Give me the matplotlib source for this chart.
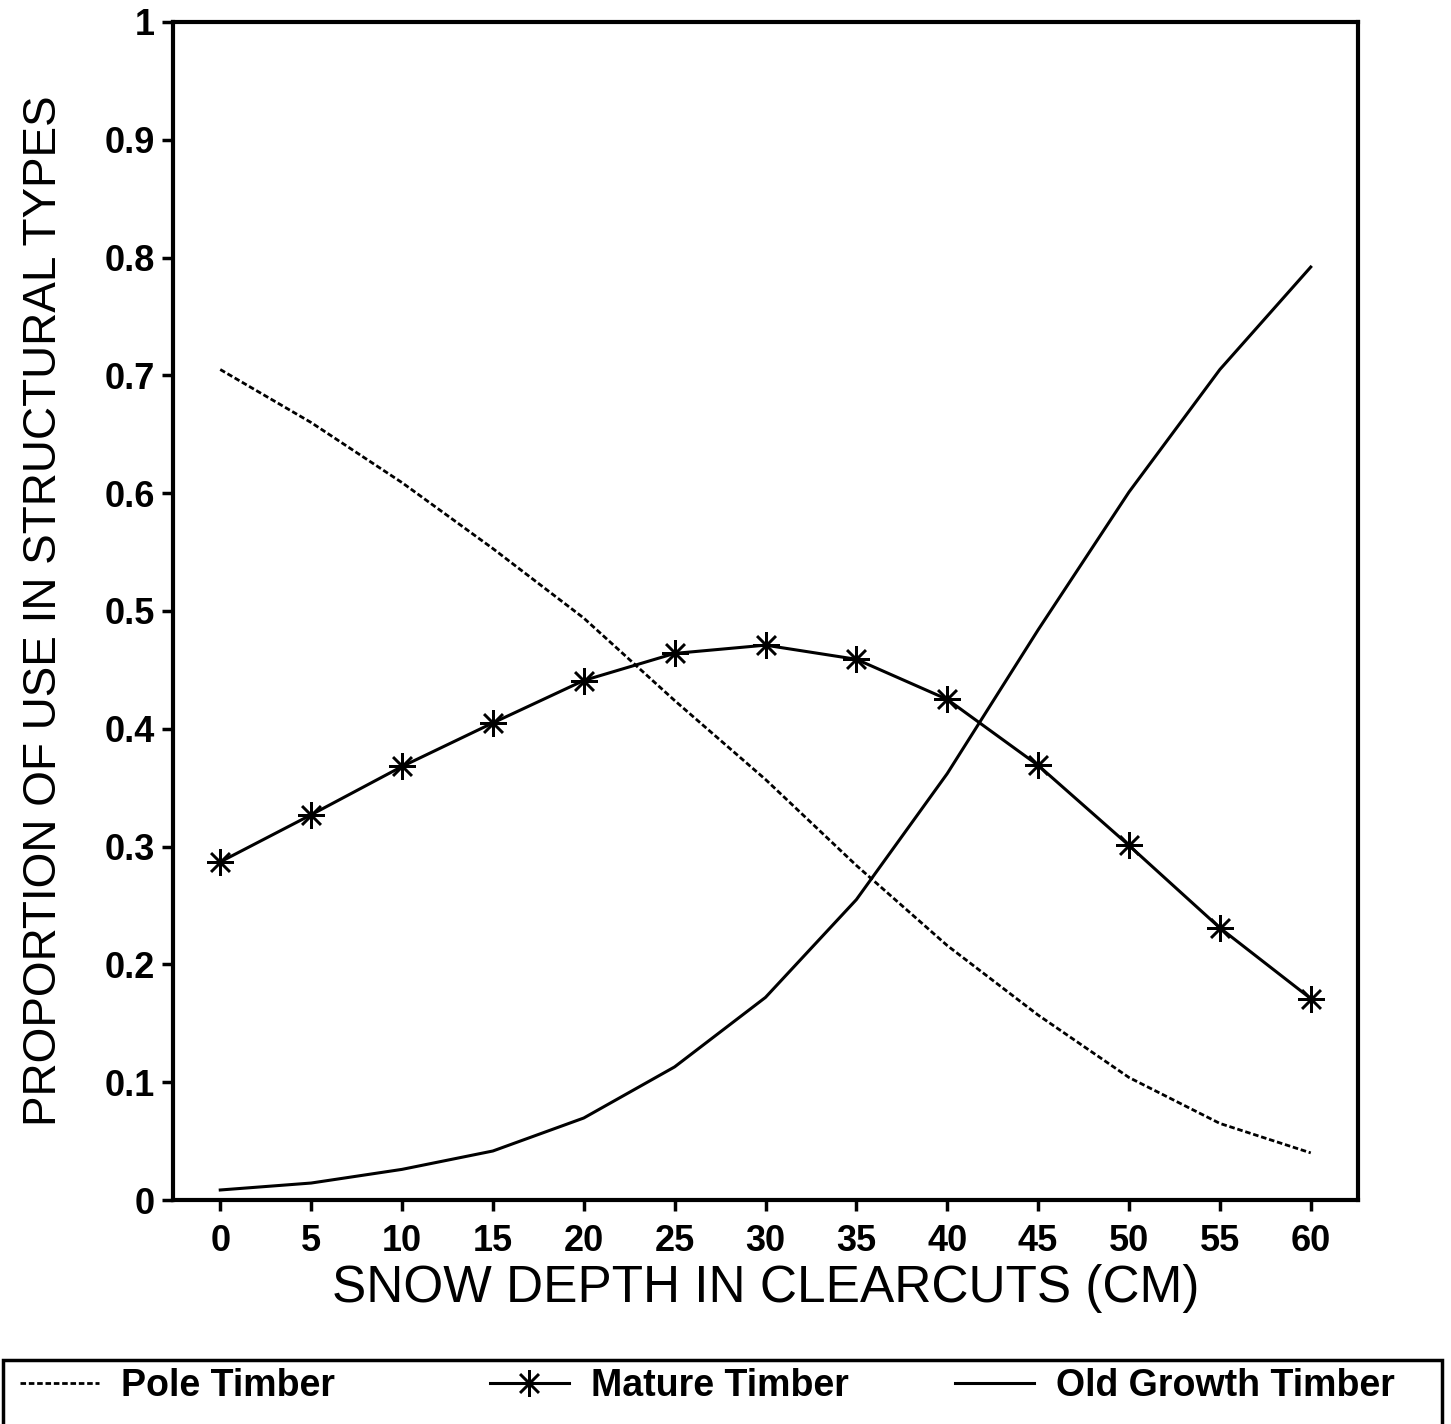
import matplotlib.pyplot as plt
from matplotlib.patches import Rectangle

plt.rcParams['font.family'] = ['Liberation Sans', 'DejaVu Sans']

# Data
snow_depth = [0, 5, 10, 15, 20, 25, 30, 35, 40, 45, 50, 55, 60]
pole = [0.705, 0.660, 0.609, 0.553, 0.494, 0.424, 0.357, 0.284, 0.216, 0.157, 0.104, 0.065, 0.040]
mature = [0.287, 0.327, 0.368, 0.405, 0.441, 0.464, 0.471, 0.459, 0.425, 0.369, 0.301, 0.231, 0.171]
old_growth = [0.0085, 0.0144, 0.026, 0.0416, 0.0696, 0.113, 0.172, 0.255, 0.362, 0.484, 0.601, 0.705, 0.792]
y_ticks = [0, 0.1, 0.2, 0.3, 0.4, 0.5, 0.6, 0.7, 0.8, 0.9, 1]
y_tick_labels = ['0', '0.1', '0.2', '0.3', '0.4', '0.5', '0.6', '0.7', '0.8', '0.9', '1']
series_names = ['Pole Timber', 'Mature Timber', 'Old Growth Timber']

W, H = 1451, 1424
fig = plt.figure(figsize=(W / 100, H / 100), dpi=100)
ax = fig.add_axes([173 / W, 1 - 1200 / H, (1358 - 173) / W, (1200 - 22) / H])

asterisk = (8, 2, 0)
l1, = ax.plot(snow_depth, pole, color='black', linestyle=(0, (2, 1)), linewidth=2.0)
l2, = ax.plot(snow_depth, mature, color='black', linewidth=2.2, marker=asterisk,
              markersize=19, markeredgewidth=1.8)
l3, = ax.plot(snow_depth, old_growth, color='black', linewidth=2.2)

ax.set_xlim(-2.6, 62.6)
ax.set_ylim(0, 1)
ax.set_xticks(snow_depth)
ax.set_xticklabels([str(v) for v in snow_depth], fontsize=26, fontweight='bold')
ax.set_yticks(y_ticks)
ax.set_yticklabels(y_tick_labels, fontsize=26, fontweight='bold')
ax.tick_params(direction='out', length=8, width=2.5, pad=5)
ax.tick_params(axis='x', pad=9)

for s in ax.spines.values():
    s.set_linewidth(3)
    s.set_color('black')

ax.set_xlabel('SNOW DEPTH IN CLEARCUTS (CM)', fontsize=37, labelpad=4)
ax.set_ylabel('PROPORTION OF USE IN STRUCTURAL TYPES', fontsize=33, labelpad=28)

# Legend box along the bottom
fig.patches.append(Rectangle((3 / W, -0.02), (1442 - 3) / W, 1 - 1360 / H + 0.02,
                             transform=fig.transFigure, fill=False,
                             edgecolor='black', linewidth=2.5))

legend_x = [20 / W, 490 / W, 955 / W]
for handle, name, lx in zip([l1, l2, l3], series_names, legend_x):
    fig.legend(handles=[handle], labels=[name], loc='center left',
               bbox_to_anchor=(lx, 1 - 1386 / H), frameon=False,
               prop={'size': 27, 'weight': 'bold'}, handlelength=2.1,
               handletextpad=0.6, borderaxespad=0, borderpad=0)

fig.savefig('out.png', dpi=100)
